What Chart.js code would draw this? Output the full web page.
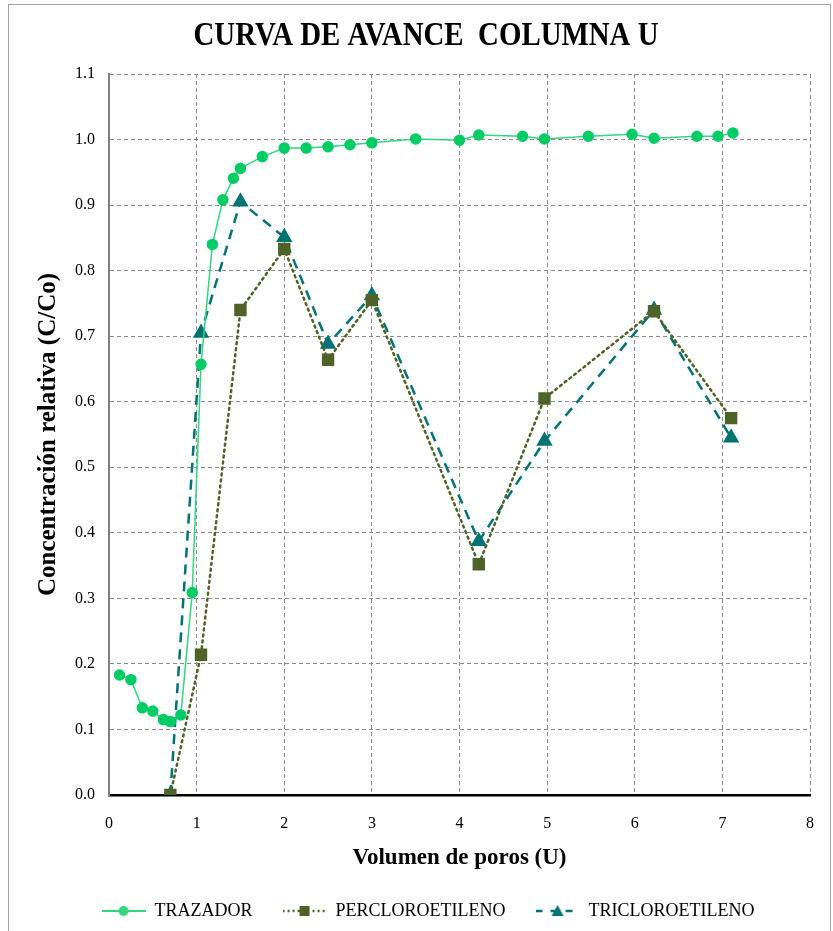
<!DOCTYPE html>
<html>
<head>
<meta charset="utf-8">
<script src="https://cdn.jsdelivr.net/npm/chart.js@4/dist/chart.umd.min.js"></script>
<style>
  html, body { margin: 0; padding: 0; background: #fff; }
  #wrap { position: relative; width: 833px; height: 931px; }
</style>
</head>
<body>
<div id="wrap"><canvas id="chart" width="833" height="931"></canvas></div>
<script>
// datos
var xTrazador = [0.12, 0.25, 0.38, 0.50, 0.62, 0.70, 0.82, 0.95, 1.05, 1.18, 1.30, 1.42, 1.50, 1.75, 2.00, 2.25, 2.50, 2.75, 3.00, 3.50, 4.00, 4.22, 4.72, 4.97, 5.47, 5.97, 6.22, 6.71, 6.95, 7.12];
var yTrazador = [0.183, 0.176, 0.133, 0.128, 0.115, 0.112, 0.122, 0.309, 0.657, 0.840, 0.908, 0.941, 0.956, 0.974, 0.987, 0.987, 0.989, 0.992, 0.995, 1.001, 0.999, 1.007, 1.005, 1.001, 1.005, 1.008, 1.002, 1.005, 1.005, 1.010];

var xPercloro = [0.70, 1.05, 1.50, 2.00, 2.50, 3.00, 4.22, 4.97, 6.22, 7.10];
var yPercloro = [0.000, 0.214, 0.740, 0.833, 0.664, 0.755, 0.352, 0.605, 0.738, 0.575];

var xTricloro = [0.70, 1.05, 1.50, 2.00, 2.50, 3.00, 4.22, 4.97, 6.22, 7.10];
var yTricloro = [0.000, 0.705, 0.905, 0.851, 0.688, 0.762, 0.387, 0.540, 0.740, 0.545];

var xTicks = [0, 1, 2, 3, 4, 5, 6, 7, 8];
var yTicks = [0, 0.1, 0.2, 0.3, 0.4, 0.5, 0.6, 0.7, 0.8, 0.9, 1.0, 1.1];

var titulo = 'CURVA DE AVANCE  COLUMNA U';

var verde = '#00cc66', oliva = '#4f6228', azul = '#007373';
var fuente = "'Liberation Serif', 'Times New Roman', serif";

function pares(xs, ys) {
  return xs.map(function (x, i) { return { x: x, y: ys[i] }; });
}

// icono de leyenda tipo excel: linea con marcador al centro
function iconoLeyenda(color, dash, lw, marca) {
  var c = document.createElement('canvas');
  c.width = 44; c.height = 14;
  var g = c.getContext('2d');
  g.strokeStyle = color; g.lineWidth = lw; g.setLineDash(dash);
  g.beginPath(); g.moveTo(0, 7); g.lineTo(44, 7); g.stroke();
  g.setLineDash([]);
  g.fillStyle = color;
  g.beginPath();
  if (marca === 'circle') g.arc(22, 7, 5, 0, Math.PI * 2);
  else if (marca === 'rect') g.rect(17, 2, 10, 10);
  else { g.moveTo(22, 1); g.lineTo(28, 12); g.lineTo(16, 12); g.closePath(); }
  g.fill();
  return c;
}

// fondo, marco y titulo (el titulo va algo comprimido como en el original)
var marco = {
  id: 'marco',
  afterLayout: function (chart) {
    // la leyenda del original esta centrada en todo el ancho, no en el area
    chart.legend.left += 23;
    chart.legend.right += 23;
  },
  beforeDraw: function (chart) {
    var ctx = chart.ctx;
    ctx.save();
    ctx.fillStyle = '#fff';
    ctx.fillRect(0, 0, chart.width, chart.height);
    ctx.strokeStyle = '#a6a6a6';
    ctx.lineWidth = 1;
    ctx.strokeRect(8.5, 4.5, 822, 940);
    ctx.restore();
  },
  afterDraw: function (chart) {
    var ctx = chart.ctx;
    ctx.save();
    ctx.translate(426, 45);
    ctx.scale(0.875, 1);
    ctx.font = 'bold 33px ' + fuente;
    ctx.fillStyle = '#000';
    ctx.textAlign = 'center';
    ctx.textBaseline = 'alphabetic';
    ctx.fillText(titulo, 0, 0);
    ctx.restore();
  }
};

new Chart(document.getElementById('chart'), {
  type: 'scatter',
  data: {
    datasets: [
      {
        label: 'TRAZADOR',
        data: pares(xTrazador, yTrazador),
        showLine: true,
        borderColor: '#33d67f',
        borderWidth: 1.5,
        backgroundColor: verde,
        pointBackgroundColor: verde,
        pointBorderColor: verde,
        pointStyle: 'circle',
        pointRadius: 5,
        icono: iconoLeyenda('#33d67f', [], 2, 'circle')
      },
      {
        label: 'PERCLOROETILENO',
        data: pares(xPercloro, yPercloro),
        showLine: true,
        borderColor: oliva,
        borderWidth: 2.5,
        borderDash: [2, 4],
        borderCapStyle: 'round',
        backgroundColor: oliva,
        pointBackgroundColor: oliva,
        pointBorderColor: oliva,
        pointStyle: 'rect',
        pointRadius: 7,
        icono: iconoLeyenda(oliva, [2, 3], 2.5, 'rect')
      },
      {
        label: 'TRICLOROETILENO',
        data: pares(xTricloro, yTricloro),
        showLine: true,
        borderColor: azul,
        borderWidth: 2.5,
        borderDash: [10, 7],
        backgroundColor: azul,
        pointBackgroundColor: azul,
        pointBorderColor: azul,
        pointStyle: 'triangle',
        pointRadius: 7,
        icono: iconoLeyenda(azul, [7, 8], 2.5, 'triangle')
      }
    ]
  },
  options: {
    responsive: false,
    animation: false,
    layout: { padding: { left: 0, right: 23, top: 74, bottom: 1 } },
    plugins: {
      title: { display: false },
      legend: {
        position: 'bottom',
        labels: {
          color: '#000',
          font: { family: fuente, size: 18 },
          usePointStyle: true,
          pointStyleWidth: 44,
          boxHeight: 14,
          padding: 30,
          generateLabels: function (chart) {
            return chart.data.datasets.map(function (ds, i) {
              return {
                text: ds.label,
                pointStyle: ds.icono,
                fillStyle: ds.borderColor,
                strokeStyle: ds.borderColor,
                lineWidth: 0,
                hidden: false,
                datasetIndex: i,
                fontColor: '#000'
              };
            });
          }
        }
      },
      tooltip: { enabled: false }
    },
    scales: {
      x: {
        type: 'linear',
        min: 0, max: 8,
        afterBuildTicks: function (s) { s.ticks = xTicks.map(function (v) { return { value: v }; }); },
        afterFit: function (s) { s.height = 77; },
        grid: {
          color: '#8c8c8c',
          lineWidth: 1,
          drawTicks: false
        },
        border: { display: true, color: '#000', width: 2.5, dash: [4, 3] },
        ticks: {
          color: '#000',
          font: { family: fuente, size: 16 },
          padding: 19,
          callback: function (v) { return String(v); }
        },
        title: {
          display: true,
          text: 'Volumen de poros (U)',
          color: '#000',
          font: { family: fuente, size: 23, weight: 'bold' },
          padding: { top: 0, bottom: 0 }
        }
      },
      y: {
        type: 'linear',
        min: 0, max: 1.1,
        afterBuildTicks: function (s) { s.ticks = yTicks.map(function (v) { return { value: v }; }); },
        afterFit: function (s) { s.width = 109; },
        grid: {
          color: '#8c8c8c',
          lineWidth: 1,
          drawTicks: false
        },
        border: { display: true, color: '#808080', width: 2, dash: [4, 3] },
        ticks: {
          color: '#000',
          font: { family: fuente, size: 16 },
          padding: 14,
          callback: function (v) { return v.toFixed(1); }
        },
        title: {
          display: true,
          text: 'Concentración relativa (C/Co)',
          color: '#000',
          font: { family: fuente, size: 25, weight: 'bold' },
          padding: { top: 34, bottom: 0 }
        }
      }
    }
  },
  plugins: [marco]
});
</script>
</body>
</html>
